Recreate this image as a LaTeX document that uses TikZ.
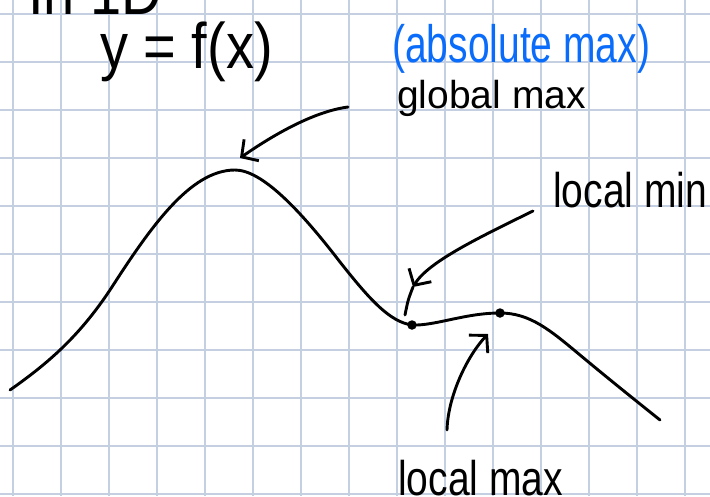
\documentclass[tikz,border=0pt]{standalone}
\usepackage{graphicx}
\usepackage{fontspec}
\setmainfont{Liberation Sans}
\usetikzlibrary{arrows.meta}
\definecolor{gridc}{RGB}{196,207,226}
\definecolor{penblue}{RGB}{10,108,250}
\newcommand\talltext[2]{\scalebox{1}[#1]{#2}}
\begin{document}
\begin{tikzpicture}[x=1pt,y=-1pt,
  gridline/.style={gridc, line width=1.6pt},
  pen/.style={black, line width=2.9pt, line cap=round, line join=round},
  barb/.style={-{Straight Barb[length=12pt,width=26pt]}},
  lbl/.style={anchor=base west, inner sep=0pt, font=\fontsize{39}{39}\selectfont},
  big/.style={lbl, font=\fontsize{56}{56}\selectfont},
  dot/.style={circle, fill=black, inner sep=0pt, minimum size=9.5pt}
]
\useasboundingbox (0,0) rectangle (710,496);
\fill[white] (0,0) rectangle (710,496);
\foreach \i in {0,...,14} \draw[gridline] (13+48*\i,0) -- (13+48*\i,496);
\foreach \j in {0,...,10} \draw[gridline] (0,14+48*\j) -- (710,14+48*\j);

% labels
\node[big] (title) at (28,14) {\talltext{1.15}{In 1D}};
\node[big] (eq) at (100,68) {\talltext{1.15}{y = f(x)}};
\node[lbl, text=penblue] (abs) at (392,62) {\talltext{1.35}{(absolute max)}};
\node[lbl] (gmaxl) at (397,108) {global max};
\node[lbl] (lminl) at (553,207) {\talltext{1.25}{local min}};
\node[lbl] (lmaxl) at (398,495) {\talltext{1.25}{local max}};

% curve
\coordinate (c0) at (10,390);
\coordinate (gpk) at (235,170);
\coordinate (lminp) at (412,325);
\coordinate (lmaxp) at (500,313);
\coordinate (c9) at (660,420);
\draw[pen] (c0) .. controls (50,362) and (80,335) .. (110,290)
  .. controls (150,228) and (190,170) .. (gpk)
  .. controls (262,170) and (300,210) .. (340,262)
  .. controls (370,300) and (390,322) .. (lminp)
  .. controls (435,326) and (465,313) .. (lmaxp)
  .. controls (530,313) and (550,330) .. (580,355)
  .. controls (610,380) and (635,400) .. (c9);

% extremum points
\node[dot] (lmin) at (lminp) {};
\node[dot] (lmax) at (lmaxp) {};

% arrow anchor coordinates
\coordinate (gs) at (348,107);
\coordinate (gt) at (240,158);
\coordinate (ms) at (533,211);
\coordinate (mt) at (413,287);
\coordinate (me) at (405,315);
\coordinate (xs) at (447,430);
\coordinate (xt) at (488,334);

% arrows
\draw[pen, barb] (gs) .. controls (310,112) and (266,140) .. (gt);
\draw[pen, barb] (ms) .. controls (478,238) and (428,262) .. (mt);
\draw[pen] (mt) .. controls (408,300) .. (me);
\draw[pen, barb] (xs) .. controls (448,395) and (468,355) .. (xt);
\end{tikzpicture}
\end{document}
